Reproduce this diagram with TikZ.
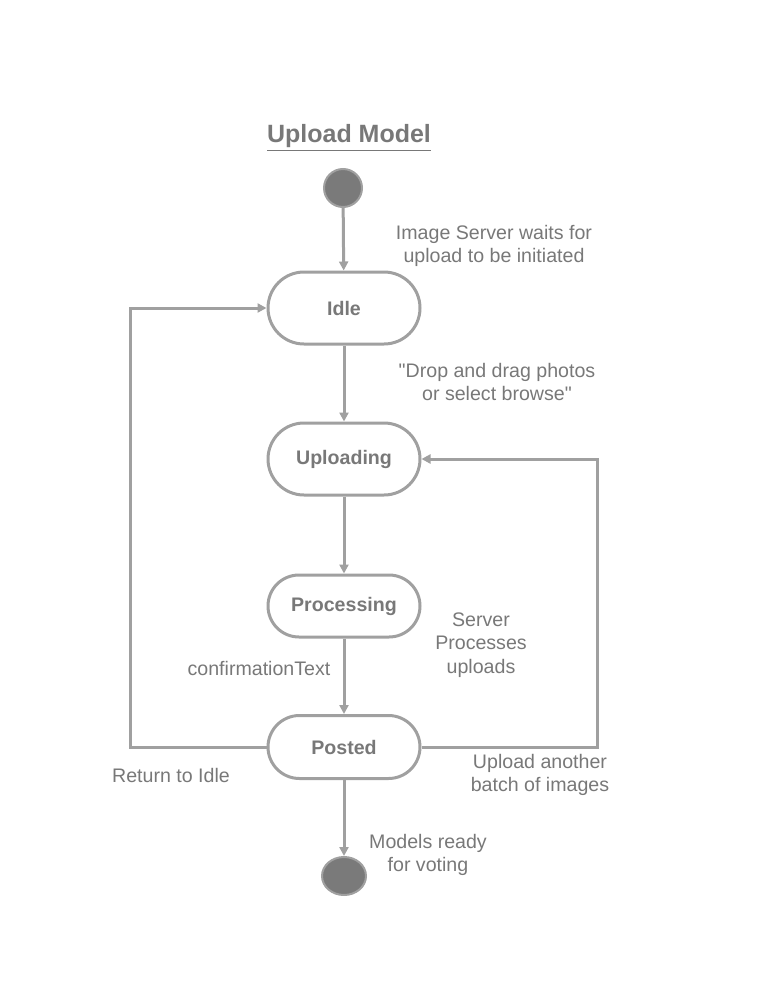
\documentclass[tikz,border=0pt]{standalone}
\usepackage{fontspec}
\setmainfont{Liberation Sans}
\usetikzlibrary{arrows.meta,positioning,shapes.geometric}

\definecolor{linegray}{HTML}{A0A0A0}
\definecolor{textgray}{HTML}{787878}
\definecolor{dotgray}{HTML}{7A7A7A}

\begin{document}
\begin{tikzpicture}[x=0.5pt,y=-0.5pt,
  state/.style={draw=linegray,line width=1.5pt,rounded corners=#1/2,
    minimum width=76pt,minimum height=#1,text=textgray,
    font=\bfseries\fontsize{9.8}{11}\selectfont},
  state/.default=36pt,
  dot/.style={ellipse,fill=dotgray,draw=linegray,line width=1pt,inner sep=0pt},
  lbl/.style={text=textgray,font=\fontsize{9.8}{11.75}\selectfont,align=center},
  trans/.style={draw=linegray,line width=1.5pt,-{Triangle[length=4.5pt,width=4.5pt]}}]
  \useasboundingbox (0,0) rectangle (775,1001);

  % title
  \node[text=textgray,font=\bfseries\fontsize{12.5}{14}\selectfont] (title) at (349,138) {\underline{Upload Model}};

  % states
  \node[dot,minimum width=19pt,minimum height=19pt] (start) at (343,188) {};
  \node[state] (idle) at (344,308) {Idle};
  \node[state] (uploading) at (344,459) {Uploading};
  \node[state=31pt] (processing) at (344,606) {Processing};
  \node[state=31.5pt] (posted) at (344,747) {Posted};
  \node[dot,minimum width=22pt,minimum height=19pt] (stop) at (344,876) {};

  % corners of the loops
  \coordinate (retcorner) at (130,747);
  \coordinate (againcorner) at (597,747);

  % transitions
  \draw[trans] (start) -- (idle);
  \draw[trans] (idle) -- (uploading);
  \draw[trans] (uploading) -- (processing);
  \draw[trans] (processing) -- (posted);
  \draw[trans] (posted) -- (stop);
  \draw[trans] (posted.west) -- (retcorner) |- (idle.west);
  \draw[trans] (posted.east) -- (againcorner) |- (uploading.east);

  % labels
  \node[lbl] (waitlbl) at (494,246) {Image Server waits for\\upload to be initiated};
  \node[lbl] (droplbl) at (497,382) {\textquotedbl Drop and drag photos\\or select browse\textquotedbl};
  \node[lbl] (serverlbl) at (481,645) {Server\\Processes\\uploads};
  \node[lbl] (conflbl) at (259,668) {confirmationText};
  \node[lbl] (retlbl) at (171,775) {Return to Idle};
  \node[lbl] (againlbl) at (540,775) {Upload another\\batch of images};
  \node[lbl] (readylbl) at (428,855) {Models ready\\for voting};
\end{tikzpicture}
\end{document}
